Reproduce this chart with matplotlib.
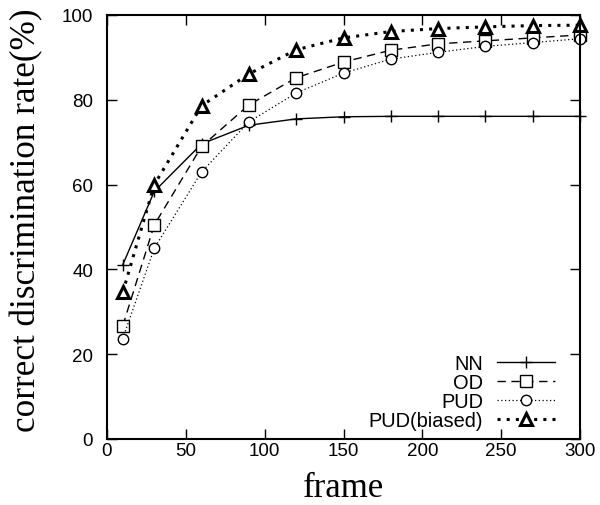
import matplotlib
matplotlib.use("Agg")
import matplotlib.pyplot as plt

frames = [10, 30, 60, 90, 120, 150, 180, 210, 240, 270, 300]
nn = [41.1, 58.4, 69.6, 74.0, 75.5, 76.0, 76.1, 76.1, 76.1, 76.1, 76.1]
od = [26.7, 50.5, 69.0, 78.8, 85.2, 88.9, 91.7, 93.2, 93.9, 94.6, 95.3]
pud = [23.7, 45.0, 63.0, 74.8, 81.6, 86.3, 89.6, 91.2, 92.6, 93.5, 94.4]
pud_b = [34.6, 60.0, 78.6, 86.1, 91.8, 94.6, 96.1, 96.8, 97.2, 97.5, 97.6]

xticks = [0, 50, 100, 150, 200, 250, 300]
yticks = [0, 20, 40, 60, 80, 100]

fig = plt.figure(figsize=(6.0, 5.06), dpi=100)
ax = fig.add_axes([107/600, 1 - 440/506, (580-107)/600, (440-16)/506])

ax.plot(frames, nn, color='black', lw=1.0, ls='-', marker='+', ms=8, mew=1.0,
        label='NN', clip_on=False)
ax.plot(frames, od, color='black', lw=1.0, ls=(0, (6, 4)), marker='s', ms=8,
        mfc='white', mew=1.0, label='OD', clip_on=False)
ax.plot(frames, pud, color='black', lw=0.9, ls=(0, (1, 2)), marker='o', ms=7.5,
        mfc='white', mew=1.0, label='PUD', clip_on=False)
ax.plot(frames, pud_b, color='black', lw=2.2, ls=(0, (1, 2)), marker='^', ms=8.5,
        mfc='white', mew=2.2, label='PUD(biased)', clip_on=False)

ax.set_xlim(0, 300)
ax.set_ylim(0, 100)
ax.set_xticks(xticks)
ax.set_yticks(yticks)
ax.tick_params(direction='in', length=7, width=1.0, top=True, right=True,
               labelsize=13.5)
ax.tick_params(axis='x', pad=2)
ax.tick_params(axis='y', pad=10)
for lab in ax.get_xticklabels() + ax.get_yticklabels():
    lab.set_fontfamily('Liberation Sans')
for s in ax.spines.values():
    s.set_linewidth(1.5)

ax.set_xlabel('frame', fontfamily='Liberation Serif', fontsize=25)
ax.xaxis.set_label_coords(0.5, -0.075)
ax.set_ylabel('correct discrimination rate(%)', fontfamily='Liberation Serif',
              fontsize=25.3)
ax.yaxis.set_label_coords(-0.135, 0.519)

leg = ax.legend(loc='lower right', frameon=False, markerfirst=False,
                prop={'family': 'Liberation Sans', 'size': 14.4},
                handlelength=2.9, labelspacing=0.0, borderaxespad=0.0,
                borderpad=0.0, handletextpad=0.7,
                bbox_to_anchor=(0.947, 0.021))
for t in leg.get_texts():
    t.set_ha('right')

fig.savefig('out.png', dpi=100)
